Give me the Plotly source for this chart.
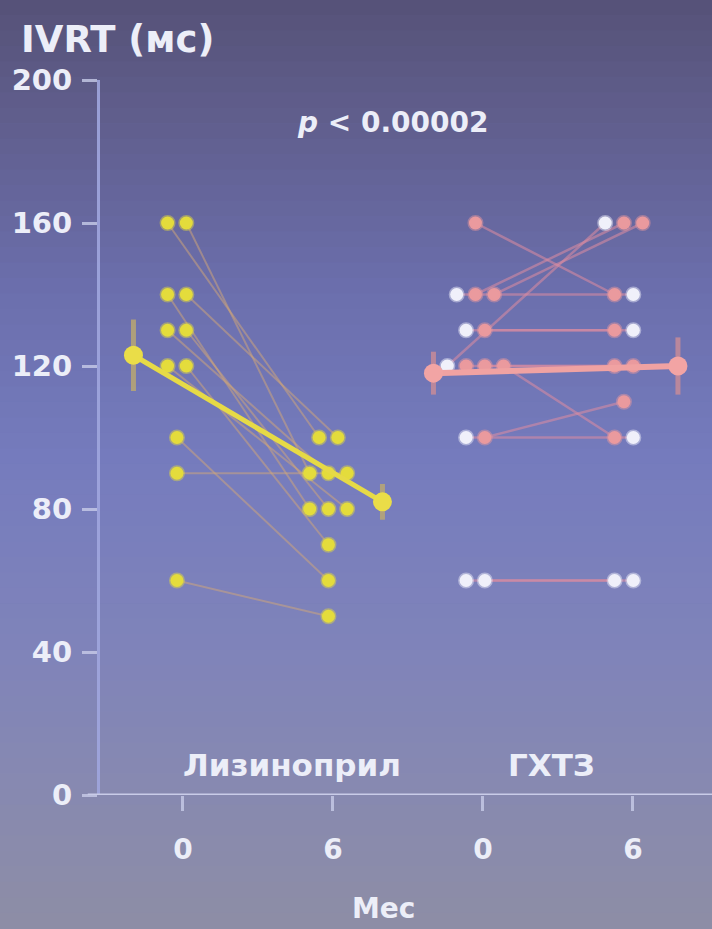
import plotly.graph_objects as go

# ---------------- data ----------------
y_ticks = [0, 40, 80, 120, 160, 200]
time_labels = ["0", "6", "0", "6"]
group_labels = ["Лизиноприл", "ГХТЗ"]

lis_t0 = [160, 160, 140, 140, 130, 130, 120, 120, 100, 90, 60]
lis_t6 = [100, 90, 80, 100, 90, 80, 80, 70, 60, 90, 50]
lis_mean = [123, 82]
lis_err = [10, 5]

ghtz_pink_t0 = [160, 140, 140, 130, 120, 120, 120, 100]
ghtz_pink_t6 = [140, 160, 160, 130, 120, 120, 100, 110]
ghtz_white_t0 = [120, 140, 130, 100, 60, 60]
ghtz_white_t6 = [160, 140, 130, 100, 60, 60]
ghtz_mean = [118, 120]
ghtz_err = [6, 8]

p_text = "<i>p</i> < 0.00002"

# ---------------- helpers ----------------
FONT = "DejaVu Sans"
TXT = "#eceef8"
SP = 0.125


def offsets(vals, shift):
    counts = {v: vals.count(v) for v in vals}
    seen = {}
    out = []
    for v in vals:
        i = seen.get(v, 0)
        seen[v] = i + 1
        out.append((i - (counts[v] - 1) / 2) * SP + shift)
    return out


# Lisinopril positions
lx0 = [0 + o for o in offsets(lis_t0, -0.04)]
lx6 = [1 + o for o in offsets(lis_t6, -0.03)]

# GHTZ: subjects list (whites then pinks)
g_t0 = ghtz_white_t0 + ghtz_pink_t0
g_t6 = ghtz_white_t6 + ghtz_pink_t6
g_col = ["w"] * len(ghtz_white_t0) + ["p"] * len(ghtz_pink_t0)
nW = len(ghtz_white_t0)
gx0 = [2 + o for o in offsets(g_t0, -0.05)]
# t6 left-to-right order inside a row: top-row white first, otherwise pinks first
top6 = max(g_t6)
order6 = ([i for i in range(nW) if g_t6[i] == top6] + list(range(nW, len(g_t6)))
          + [i for i in range(nW) if g_t6[i] != top6])
off6 = offsets([g_t6[i] for i in order6], -0.06)
gx6 = [0] * len(g_t6)
for k, i in enumerate(order6):
    gx6[i] = 3 + off6[k]

fig = go.Figure()

# background gradient bands
stops = [(0.0, (86, 82, 120)), (0.12, (96, 94, 140)), (0.32, (108, 112, 174)),
         (0.50, (118, 124, 190)), (0.70, (128, 132, 186)), (0.86, (136, 138, 176)),
         (1.0, (142, 142, 166))]


def col_at(t):
    for (a, ca), (b, cb) in zip(stops[:-1], stops[1:]):
        if a <= t <= b:
            f = (t - a) / (b - a)
            return tuple(int(ca[j] + (cb[j] - ca[j]) * f) for j in range(3))
    return stops[-1][1]


N = 60
W, H = 712, 929
L, R, T, B = 100, 0, 80, 134
pw, ph = W - L - R, H - T - B
shapes = []
for k in range(N):
    top_px = k * H / N
    bot_px = (k + 1) * H / N
    c = col_at((k + 0.5) / N)
    shapes.append(dict(type="rect", xref="paper", yref="paper", layer="below",
                       x0=-L / pw, x1=1 + R / pw + 0.01,
                       y0=(H - B - bot_px) / ph, y1=(H - B - top_px) / ph + 0.001,
                       fillcolor="rgb(%d,%d,%d)" % c, line=dict(width=0)))
# x axis line (extends left of y axis)
shapes.append(dict(type="line", xref="paper", yref="y", x0=-0.02, x1=1.0, y0=0, y1=0,
                   line=dict(color="#c9cce8", width=3), layer="above"))

# subject lines
lx, ly = [], []
for a, b, c, d in zip(lx0, lx6, lis_t0, lis_t6):
    lx += [a, b, None]
    ly += [c, d, None]
fig.add_trace(go.Scatter(x=lx, y=ly, mode="lines", hoverinfo="skip",
                         line=dict(color="rgba(212,168,120,0.5)", width=2), showlegend=False))
gxl, gyl = [], []
for a, b, c, d in zip(gx0, gx6, g_t0, g_t6):
    gxl += [a, b, None]
    gyl += [c, d, None]
fig.add_trace(go.Scatter(x=gxl, y=gyl, mode="lines", hoverinfo="skip",
                         line=dict(color="rgba(222,140,160,0.55)", width=2.5), showlegend=False))

# dots
fig.add_trace(go.Scatter(x=lx0 + lx6, y=lis_t0 + lis_t6, mode="markers", showlegend=False,
                         marker=dict(size=13, color="#e4dc3c",
                                     line=dict(color="rgba(228,220,60,0.45)", width=3))))
px_ = [gx0[i] for i in range(len(g_t0)) if g_col[i] == "p"] + [gx6[i] for i in range(len(g_t6)) if g_col[i] == "p"]
py_ = [g_t0[i] for i in range(len(g_t0)) if g_col[i] == "p"] + [g_t6[i] for i in range(len(g_t6)) if g_col[i] == "p"]
wx_ = [gx0[i] for i in range(len(g_t0)) if g_col[i] == "w"] + [gx6[i] for i in range(len(g_t6)) if g_col[i] == "w"]
wy_ = [g_t0[i] for i in range(len(g_t0)) if g_col[i] == "w"] + [g_t6[i] for i in range(len(g_t6)) if g_col[i] == "w"]
fig.add_trace(go.Scatter(x=px_, y=py_, mode="markers", showlegend=False,
                         marker=dict(size=13, color="#ea9a9e",
                                     line=dict(color="rgba(234,154,158,0.45)", width=3))))
fig.add_trace(go.Scatter(x=wx_, y=wy_, mode="markers", showlegend=False,
                         marker=dict(size=13, color="#f0f0fa",
                                     line=dict(color="rgba(240,240,250,0.45)", width=3))))

# means
fig.add_trace(go.Scatter(x=[-0.33, 1.33], y=lis_mean, mode="lines+markers", showlegend=False,
                         line=dict(color="#e6da46", width=5),
                         marker=dict(size=19, color="#eadd48"),
                         error_y=dict(type="data", array=lis_err, color="rgba(190,170,110,0.8)",
                                      thickness=5, width=0)))
fig.add_trace(go.Scatter(x=[1.67, 3.3], y=ghtz_mean, mode="lines+markers", showlegend=False,
                         line=dict(color="#f0a2a2", width=6),
                         marker=dict(size=19, color="#f2a4a4"),
                         error_y=dict(type="data", array=ghtz_err, color="rgba(205,140,150,0.8)",
                                      thickness=5, width=0)))

annotations = [
    dict(text="<b>IVRT (мс)</b>", xref="paper", yref="paper", x=-81 / pw, y=1 + 40 / ph,
         xanchor="left", yanchor="middle", showarrow=False, font=dict(family=FONT, size=37, color=TXT)),
    dict(text="<b>" + p_text + "</b>", xref="x", yref="y", x=1.4, y=188,
         xanchor="center", yanchor="middle", showarrow=False, font=dict(family=FONT, size=28, color=TXT)),
    dict(text="<b>" + group_labels[0] + "</b>", xref="x", yref="y", x=0.73, y=8.5,
         xanchor="center", yanchor="middle", showarrow=False, font=dict(family=FONT, size=31, color=TXT)),
    dict(text="<b>" + group_labels[1] + "</b>", xref="x", yref="y", x=2.46, y=8.5,
         xanchor="center", yanchor="middle", showarrow=False, font=dict(family=FONT, size=31, color=TXT)),
    dict(text="<b>Мес</b>", xref="paper", yref="paper", x=(383 - L) / pw, y=(795 - 908) / ph,
         xanchor="center", yanchor="middle", showarrow=False, font=dict(family=FONT, size=28, color=TXT)),
]

fig.update_layout(
    width=W, height=H,
    margin=dict(l=L, r=R, t=T, b=B, pad=0),
    paper_bgcolor="rgb(112,116,170)",
    plot_bgcolor="rgba(0,0,0,0)",
    shapes=shapes,
    annotations=annotations,
    xaxis=dict(range=[-0.553, 3.527], tickvals=[0, 1, 2, 3], ticktext=time_labels,
               showgrid=False, zeroline=False, showline=False,
               ticks="outside", ticklen=15, tickwidth=3, tickcolor="rgba(200,204,232,0.8)",
               ticklabelstandoff=14,
               tickfont=dict(family=FONT, size=28, color=TXT, weight="bold")),
    yaxis=dict(range=[0, 200], tickvals=y_ticks, showgrid=False, zeroline=False,
               showline=True, linecolor="rgba(160,166,222,0.9)", linewidth=3,
               ticks="outside", ticklen=15, tickwidth=3, tickcolor="rgba(200,204,232,0.8)",
               ticklabelstandoff=4,
               tickfont=dict(family=FONT, size=29, color=TXT, weight="bold")),
)

fig.write_html("out.html")
